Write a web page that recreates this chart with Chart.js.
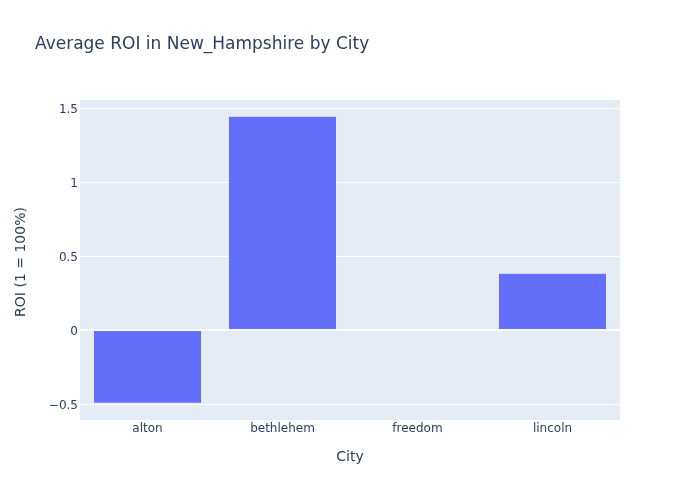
<!DOCTYPE html>
<html>
<head>
<meta charset="utf-8">
<script src="https://cdn.jsdelivr.net/npm/chart.js@4"></script>
<style>
  html, body { margin: 0; padding: 0; background: #fff; }
  #wrap { width: 700px; height: 500px; }
</style>
</head>
<body>
<div id="wrap"><canvas id="c" width="700" height="500"></canvas></div>
<script>
const categories = ["alton", "bethlehem", "freedom", "lincoln"];
const roiValues = [-0.495, 1.446, 0, 0.385];
const yTickValues = [-0.5, 0, 0.5, 1, 1.5];
const yRange = [-0.608, 1.556];
const chartTitle = "Average ROI in New_Hampshire by City";
const xTitle = "City";
const yTitle = "ROI (1 = 100%)";

const FONT = '"DejaVu Sans", verdana, sans-serif';
const TXT = '#2a3f5f';

const decor = {
  id: 'decor',
  beforeDraw(chart) {
    const { ctx, chartArea: a } = chart;
    ctx.save();
    ctx.fillStyle = '#E5ECF6';
    ctx.fillRect(a.left, a.top, a.right - a.left, a.bottom - a.top);
    ctx.restore();
  },
  afterDraw(chart) {
    const { ctx, chartArea: a } = chart;
    ctx.save();
    ctx.fillStyle = TXT;
    ctx.font = '17px ' + FONT;
    ctx.textAlign = 'left';
    ctx.textBaseline = 'middle';
    ctx.fillText(chartTitle, 35, 45);
    ctx.font = '14px ' + FONT;
    ctx.textAlign = 'center';
    ctx.fillText(xTitle, (a.left + a.right) / 2, 457);
    ctx.translate(21, (a.top + a.bottom) / 2 + 2);
    ctx.rotate(-Math.PI / 2);
    ctx.fillText(yTitle, 0, 0);
    ctx.restore();
  }
};

new Chart(document.getElementById('c'), {
  type: 'bar',
  data: {
    labels: categories,
    datasets: [{
      data: roiValues,
      backgroundColor: '#636efa',
      borderColor: '#E5ECF6',
      borderWidth: 0.5,
      categoryPercentage: 1,
      barPercentage: 0.8
    }]
  },
  options: {
    responsive: false,
    animation: false,
    devicePixelRatio: 1,
    layout: { padding: { left: 0, right: 80, top: 100, bottom: 0 } },
    plugins: { legend: { display: false }, tooltip: { enabled: false }, title: { display: false } },
    scales: {
      x: {
        grid: { display: false, drawTicks: false },
        border: { display: false },
        ticks: { color: TXT, font: { family: FONT, size: 12 }, padding: 2, maxRotation: 0 },
        afterFit(s) { s.height = 80; }
      },
      y: {
        min: yRange[0],
        max: yRange[1],
        afterBuildTicks(s) { s.ticks = yTickValues.map(v => ({ value: v })); },
        grid: {
          drawTicks: false,
          color: '#ffffff',
          lineWidth: c => (c.tick && c.tick.value === 0 ? 2 : 1)
        },
        border: { display: false },
        ticks: {
          color: TXT,
          font: { family: FONT, size: 12 },
          padding: 2,
          labelOffset: 1.5,
          callback: v => (v < 0 ? '\u2212' + Math.abs(v) : String(v))
        },
        afterFit(s) { s.width = 80; }
      }
    }
  },
  plugins: [decor]
});
</script>
</body>
</html>
